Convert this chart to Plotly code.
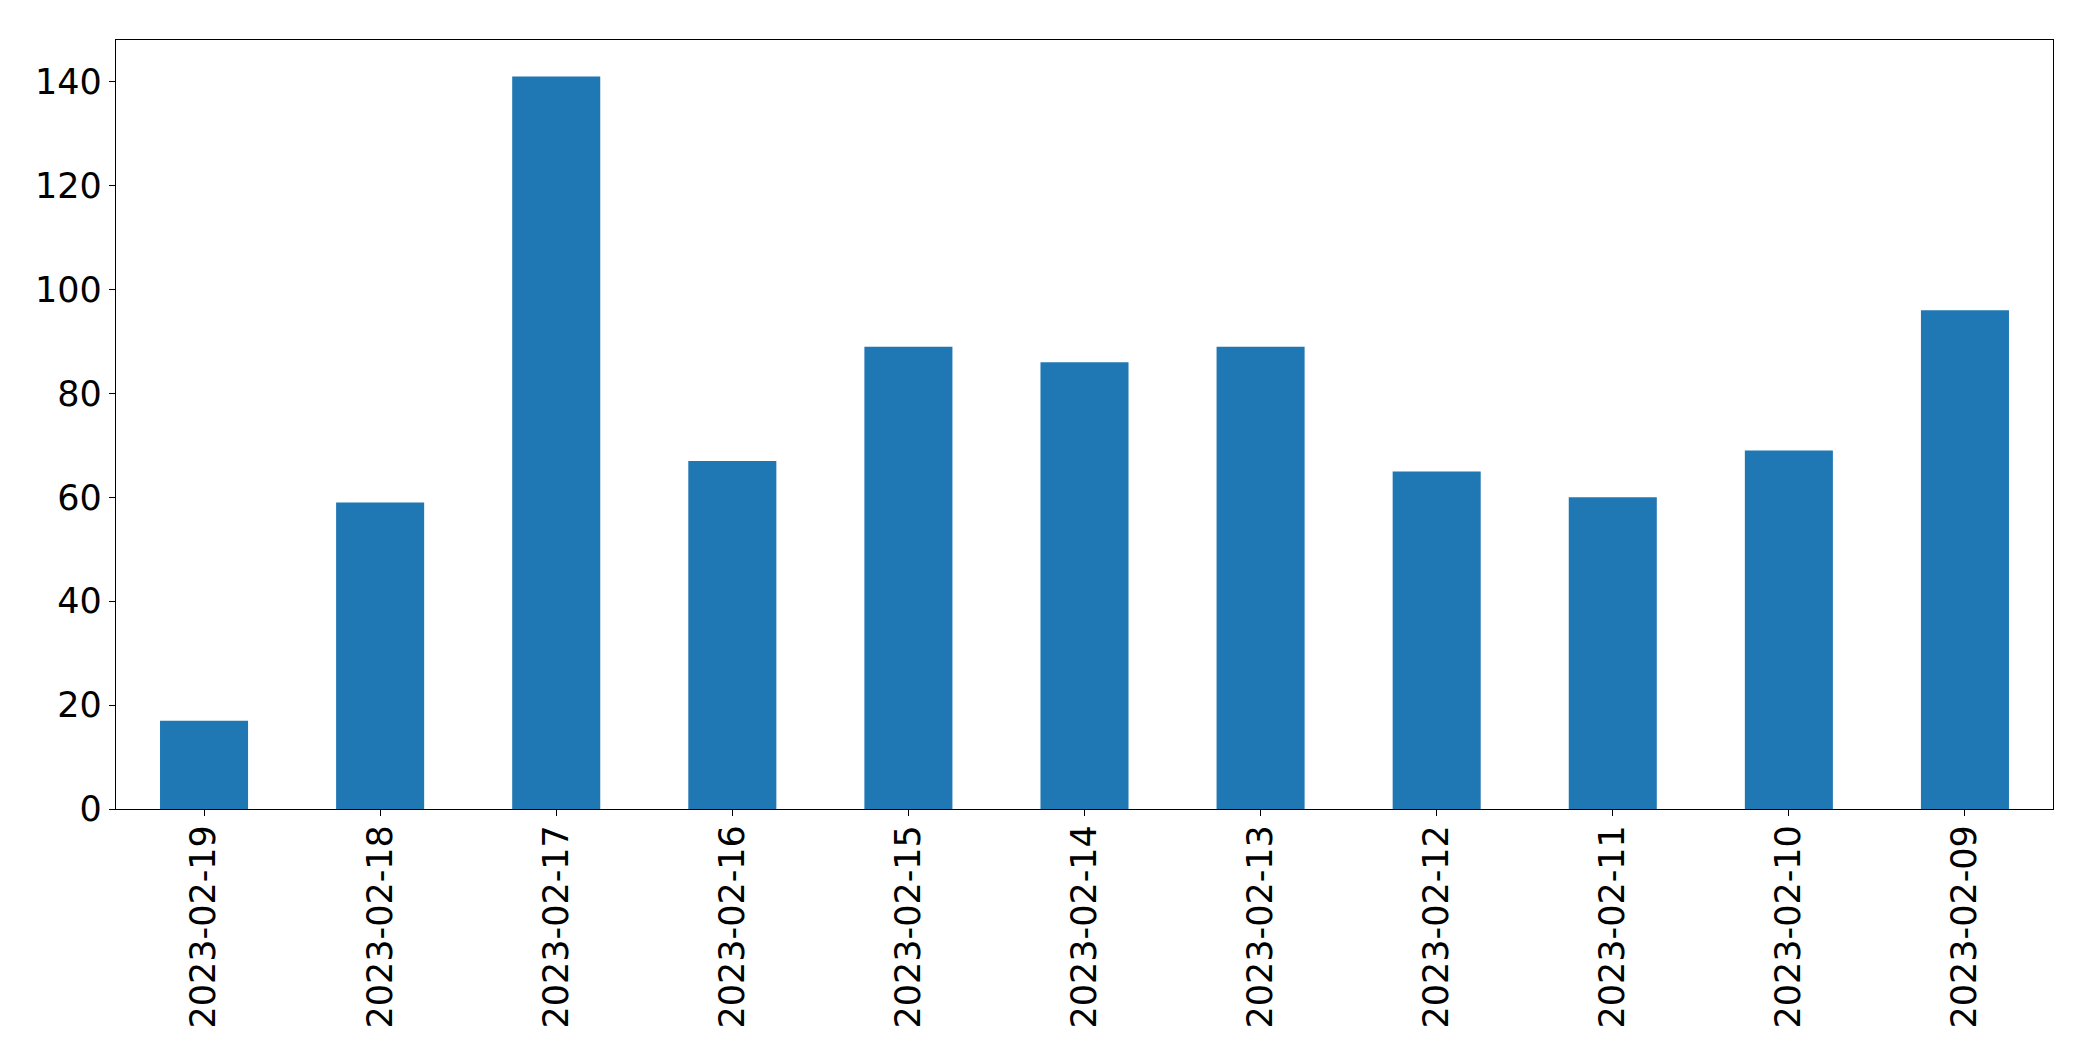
import plotly.graph_objects as go

dates = ["2023-02-19", "2023-02-18", "2023-02-17", "2023-02-16", "2023-02-15",
         "2023-02-14", "2023-02-13", "2023-02-12", "2023-02-11", "2023-02-10", "2023-02-09"]
counts = [17, 59, 141, 67, 89, 86, 89, 65, 60, 69, 96]
y_ticks = [0, 20, 40, 60, 80, 100, 120, 140]

fig = go.Figure(go.Bar(x=dates, y=counts, width=0.5, marker=dict(color="#1f77b4", line=dict(width=0))))

font = dict(family="DejaVu Sans", size=35, color="black")
fig.update_layout(
    width=2077, height=1045,
    margin=dict(l=108, r=32, t=32, b=244),
    paper_bgcolor="white", plot_bgcolor="white",
    showlegend=False,
    font=font,
)
fig.update_xaxes(
    type="category", range=[-0.5, len(dates) - 0.5],
    tickangle=-90, ticks="outside", ticklen=6, tickcolor="black",
    showline=True, linecolor="black", linewidth=1.3, mirror=True,
    showgrid=False, zeroline=False, tickfont=font, ticklabelstandoff=-5,
)
fig.update_yaxes(
    range=[0, 148.05], tickvals=y_ticks, ticktext=[str(v) for v in y_ticks],
    ticks="outside", ticklen=6, tickcolor="black",
    showline=True, linecolor="black", linewidth=1.3, mirror=True,
    showgrid=False, zeroline=False, tickfont=font,
)
fig.write_html("out.html")
